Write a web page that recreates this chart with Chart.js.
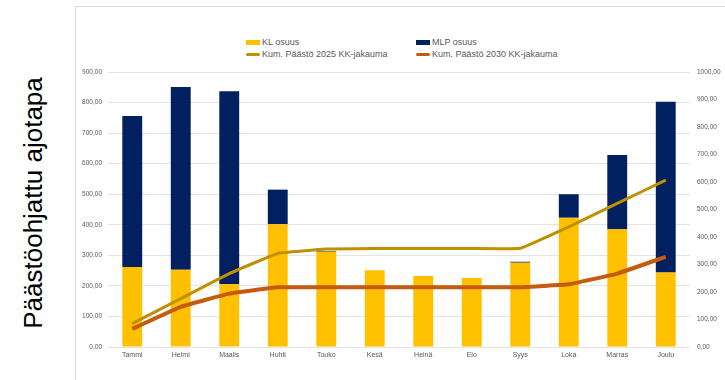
<!DOCTYPE html>
<html>
<head>
<meta charset="utf-8">
<script src="https://cdn.jsdelivr.net/npm/chart.js@4/dist/chart.umd.min.js"></script>
<style>
body{margin:0;width:725px;height:380px;background:#fff;position:relative;overflow:hidden;font-family:"Liberation Sans",Arial,sans-serif}
.kehys{position:absolute;left:75px;top:6px;width:660px;height:380px;border-left:1px solid #d9d9d9;border-top:1px solid #d9d9d9}
.otsikko{position:absolute;left:33px;top:203px;transform:translate(-50%,-50%) rotate(-90deg);font-size:26px;color:#000;white-space:nowrap}
.selite{position:absolute;font-size:9px;color:#595959;white-space:nowrap;line-height:12px}
.selite i{display:inline-block;vertical-align:middle;margin-right:2px;width:14px}
#kuva{position:absolute;left:0;top:0}
</style>
</head>
<body>
<div class="kehys"></div>
<div class="otsikko">Päästöohjattu ajotapa</div>
<div class="selite" style="left:246px;top:36px"><i style="height:5px;background:#FFC000"></i>KL osuus</div>
<div class="selite" style="left:416px;top:36px"><i style="height:5px;background:#002060"></i>MLP osuus</div>
<div class="selite" style="left:246px;top:48px"><i style="height:3px;border-radius:2px;background:#BF9000"></i>Kum. Päästö 2025 KK-jakauma</div>
<div class="selite" style="left:416px;top:48px"><i style="height:3px;border-radius:2px;background:#C55A11"></i>Kum. Päästö 2030 KK-jakauma</div>
<canvas id="kuva" width="725" height="380"></canvas>
<script>
let kuukaudet=['Tammi','Helmi','Maalis','Huhti','Touko','Kesä','Heinä','Elo','Syys','Loka','Marras','Joulu']
let klOsuus=[262,253,205,402,312,251,232,226,276,423,385,244]
let mlpOsuus=[494,598,632,113,2,0,0,0,3,77,243,559]
let kum2025=[85,176,267,340,356,358,358,358,359,437,522,607]
let kum2030=[66,146,194,217,217,217,217,217,217,228,267,328]

let muoto=v=>Number(v).toFixed(2).replace('.',',')
let tekstiFontti={family:'"Liberation Sans", Arial, sans-serif',size:6.5}

new Chart(document.getElementById('kuva'),{
type:'bar',
data:{
labels:kuukaudet,
datasets:[
{label:'Kum. Päästö 2025 KK-jakauma',type:'line',data:kum2025,yAxisID:'y2',borderColor:'#BF9000',backgroundColor:'#BF9000',borderWidth:3,pointRadius:0,tension:0.08,order:1},
{label:'Kum. Päästö 2030 KK-jakauma',type:'line',data:kum2030,yAxisID:'y2',borderColor:'#C55A11',backgroundColor:'#C55A11',borderWidth:4,pointRadius:0,tension:0.08,order:0},
{label:'KL osuus',data:klOsuus,backgroundColor:'#FFC000',stack:'a',barPercentage:0.41,categoryPercentage:1,order:2},
{label:'MLP osuus',data:mlpOsuus,backgroundColor:'#002060',stack:'a',barPercentage:0.41,categoryPercentage:1,order:2}
]
},
options:{
responsive:false,
animation:false,
layout:{padding:{left:78,right:0,top:72,bottom:13}},
plugins:{legend:{display:false},tooltip:{enabled:false}},
scales:{
x:{
stacked:true,
grid:{display:false,drawTicks:false},
border:{display:false},
ticks:{color:'#595959',font:{family:tekstiFontti.family,size:7},padding:4,maxRotation:0},
afterFit:s=>{s.height=20}
},
y:{
stacked:true,
position:'left',
min:0,max:900,
grid:{color:'#e4e4e4',drawTicks:false},
border:{display:false},
ticks:{stepSize:100,color:'#595959',font:tekstiFontti,padding:6,callback:muoto},
afterFit:s=>{s.width=30}
},
y2:{
position:'right',
min:0,max:1000,
grid:{display:false,drawTicks:false},
border:{display:false},
ticks:{stepSize:100,color:'#595959',font:tekstiFontti,padding:7,callback:muoto},
afterFit:s=>{s.width=35}
}
}
}
})
</script>
</body>
</html>
